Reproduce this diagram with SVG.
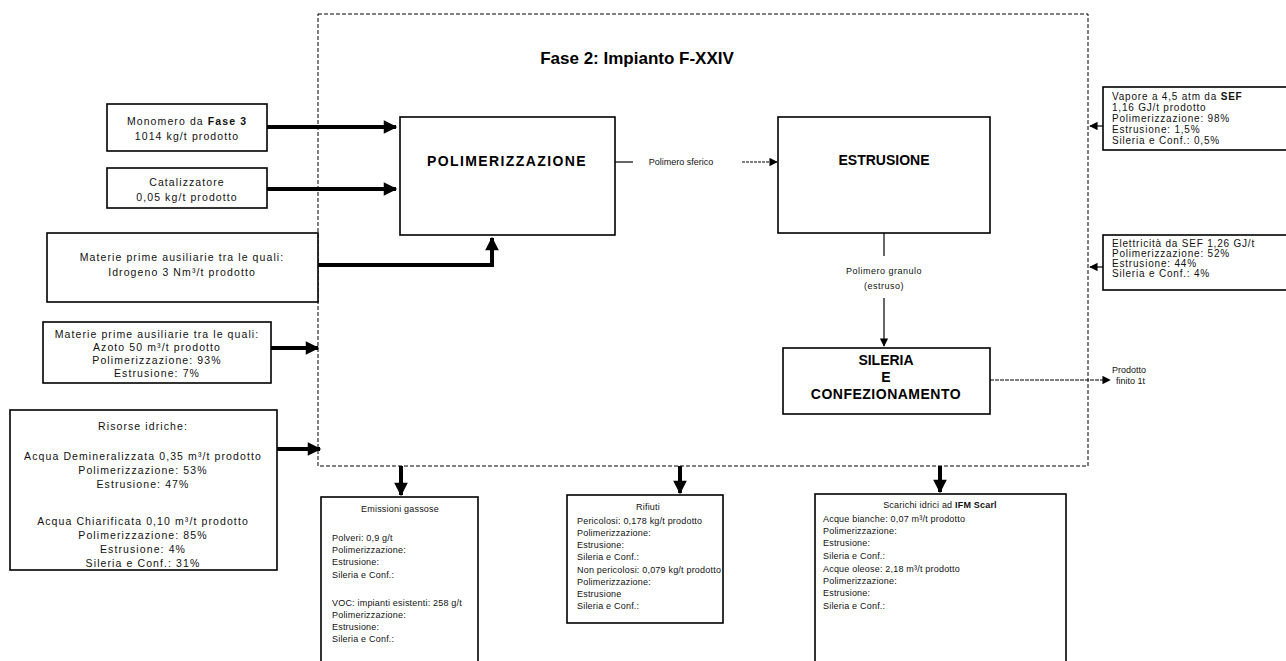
<svg xmlns="http://www.w3.org/2000/svg" width="1286" height="661" viewBox="0 0 1286 661">
  <style>
    .box { fill: #fff; stroke: #000; stroke-width: 1.6; }
    .t { font-family: "Liberation Sans", Arial, sans-serif; font-size: 9px; fill: #111; }
    .l { font-size: 10.5px; letter-spacing: 1.1px; }
    .r { font-size: 10px; letter-spacing: 0.8px; }
    .b { font-size: 9px; letter-spacing: 0.2px; }
    .c { text-anchor: middle; }
    .big { font-family: "Liberation Sans", Arial, sans-serif; font-size: 14px; font-weight: bold; text-anchor: middle; fill: #000; }
    .title { font-family: "Liberation Sans", Arial, sans-serif; font-size: 17px; font-weight: bold; text-anchor: middle; fill: #000; }
    .thick { stroke: #000; stroke-width: 4; fill: none; }
    .thin { stroke: #000; stroke-width: 1.2; fill: none; }
    .dash { stroke: #000; stroke-width: 1; fill: none; stroke-dasharray: 4 2; }
  </style>
  <defs>
    <marker id="headBig" viewBox="0 0 10 10" refX="9" refY="5" markerWidth="3.8" markerHeight="3.4" orient="auto" markerUnits="strokeWidth">
      <path d="M0,0 L10,5 L0,10 z" fill="#000"/>
    </marker>
    <marker id="headSmall" viewBox="0 0 10 10" refX="9" refY="5" markerWidth="8" markerHeight="7" orient="auto" markerUnits="strokeWidth">
      <path d="M0,0 L10,5 L0,10 z" fill="#000"/>
    </marker>
  </defs>
  <rect width="1286" height="661" fill="#fff"/>

  <!-- plant boundary -->
  <g id="plant">
    <rect x="318" y="14" width="770" height="452" class="dash"/>
    <text x="637" y="64" class="title">Fase 2: Impianto F-XXIV</text>
  </g>

  <g id="connectors">
    <line x1="267" y1="127" x2="396" y2="127" class="thick" marker-end="url(#headBig)"/>
    <line x1="267" y1="189" x2="396" y2="189" class="thick" marker-end="url(#headBig)"/>
    <polyline points="318,265 492,265 492,238" class="thick" marker-end="url(#headBig)"/>
    <line x1="271" y1="348" x2="318" y2="348" class="thick" marker-end="url(#headBig)"/>
    <line x1="277" y1="449" x2="320" y2="449" class="thick" marker-end="url(#headBig)"/>
    <line x1="1103" y1="126" x2="1090" y2="126" class="thin" marker-end="url(#headSmall)"/>
    <line x1="1103" y1="267" x2="1090" y2="267" class="thin" marker-end="url(#headSmall)"/>
    <line x1="615" y1="162" x2="633" y2="162" class="thin"/>
    <line x1="742" y1="162" x2="777" y2="162" class="thin" stroke-dasharray="3 1" marker-end="url(#headSmall)"/>
    <line x1="884" y1="233" x2="884" y2="256" class="thin"/>
    <line x1="884" y1="298" x2="884" y2="346" class="thin" marker-end="url(#headSmall)"/>
    <line x1="990" y1="380" x2="1110" y2="380" class="thin" stroke-dasharray="4 1" marker-end="url(#headSmall)"/>
    <line x1="401" y1="466" x2="401" y2="495" class="thick" marker-end="url(#headBig)"/>
    <line x1="680" y1="466" x2="680" y2="493" class="thick" marker-end="url(#headBig)"/>
    <line x1="940" y1="466" x2="940" y2="492" class="thick" marker-end="url(#headBig)"/>
    <text x="681" y="165" class="t c">Polimero sferico</text>
    <text x="884" y="274" class="t c" letter-spacing="0.5">Polimero granulo</text>
    <text x="884" y="289" class="t c" letter-spacing="0.5">(estruso)</text>
    <text x="1112" y="373" class="t">Prodotto</text>
    <text x="1116" y="384" class="t">finito 1t</text>
  </g>

  <g id="polimerizzazione">
    <rect x="400" y="117" width="215" height="118" class="box"/>
    <text x="507" y="166" class="big" letter-spacing="1.4">POLIMERIZZAZIONE</text>
  </g>
  <g id="estrusione">
    <rect x="778" y="117" width="212" height="116" class="box"/>
    <text x="884" y="165" class="big">ESTRUSIONE</text>
  </g>
  <g id="sileria">
    <rect x="783" y="348" width="207" height="66" class="box"/>
    <text x="886" y="365" class="big">SILERIA</text>
    <text x="886" y="382" class="big">E</text>
    <text x="886" y="399" class="big" letter-spacing="0.5">CONFEZIONAMENTO</text>
  </g>

  <g id="monomero">
    <rect x="107" y="104" width="160" height="47" class="box"/>
    <text x="187" y="125" class="t l c">Monomero da <tspan font-weight="bold">Fase 3</tspan></text>
    <text x="187" y="140" class="t l c">1014 kg/t prodotto</text>
  </g>
  <g id="catalizzatore">
    <rect x="107" y="168" width="160" height="40" class="box"/>
    <text x="187" y="186" class="t l c">Catalizzatore</text>
    <text x="187" y="201" class="t l c">0,05 kg/t prodotto</text>
  </g>
  <g id="idrogeno">
    <rect x="47" y="233" width="271" height="69" class="box"/>
    <text x="182" y="261" class="t l c">Materie prime ausiliarie tra le quali:</text>
    <text x="182" y="276" class="t l c">Idrogeno 3 Nm³/t prodotto</text>
  </g>
  <g id="azoto">
    <rect x="43" y="322" width="228" height="61" class="box"/>
    <text x="157" y="338" class="t l c">Materie prime ausiliarie tra le quali:</text>
    <text x="157" y="351" class="t l c">Azoto 50 m³/t prodotto</text>
    <text x="157" y="364" class="t l c">Polimerizzazione: 93%</text>
    <text x="157" y="377" class="t l c">Estrusione: 7%</text>
  </g>
  <g id="risorse-idriche">
    <rect x="10" y="410" width="267" height="160" class="box"/>
    <text x="143" y="430" class="t l c">Risorse idriche:</text>
    <text x="143" y="460" class="t l c">Acqua Demineralizzata 0,35 m³/t prodotto</text>
    <text x="143" y="474" class="t l c">Polimerizzazione: 53%</text>
    <text x="143" y="488" class="t l c">Estrusione: 47%</text>
    <text x="143" y="525" class="t l c">Acqua Chiarificata 0,10 m³/t prodotto</text>
    <text x="143" y="539" class="t l c">Polimerizzazione: 85%</text>
    <text x="143" y="553" class="t l c">Estrusione: 4%</text>
    <text x="143" y="567" class="t l c">Sileria e Conf.: 31%</text>
  </g>

  <g id="vapore">
    <rect x="1103" y="87" width="190" height="63" class="box"/>
    <text x="1112" y="100" class="t r" letter-spacing="1.6">Vapore a 4,5 atm da <tspan font-weight="bold">SEF</tspan></text>
    <text x="1112" y="111" class="t r">1,16 GJ/t prodotto</text>
    <text x="1112" y="122" class="t r">Polimerizzazione: 98%</text>
    <text x="1112" y="133" class="t r">Estrusione: 1,5%</text>
    <text x="1112" y="144" class="t r">Sileria e Conf.: 0,5%</text>
  </g>
  <g id="elettricita">
    <rect x="1103" y="235" width="190" height="55" class="box"/>
    <text x="1112" y="247" class="t r" letter-spacing="1.2">Elettricità da SEF 1,26 GJ/t</text>
    <text x="1112" y="257" class="t r">Polimerizzazione: 52%</text>
    <text x="1112" y="267" class="t r">Estrusione: 44%</text>
    <text x="1112" y="277" class="t r">Sileria e Conf.: 4%</text>
  </g>

  <g id="emissioni">
    <rect x="321" y="497" width="157" height="170" class="box"/>
    <text x="400" y="512" class="t b c">Emissioni gassose</text>
    <text x="332" y="541" class="t b">Polveri: 0,9 g/t</text>
    <text x="332" y="553" class="t b">Polimerizzazione:</text>
    <text x="332" y="565" class="t b">Estrusione:</text>
    <text x="332" y="578" class="t b">Sileria e Conf.:</text>
    <text x="332" y="606" class="t b">VOC: impianti esistenti: 258 g/t</text>
    <text x="332" y="618" class="t b">Polimerizzazione:</text>
    <text x="332" y="630" class="t b">Estrusione:</text>
    <text x="332" y="642" class="t b">Sileria e Conf.:</text>
  </g>
  <g id="rifiuti">
    <rect x="567" y="495" width="156" height="128" class="box"/>
    <text x="648" y="510" class="t b c">Rifiuti</text>
    <text x="577" y="524" class="t b">Pericolosi: 0,178 kg/t prodotto</text>
    <text x="577" y="536" class="t b">Polimerizzazione:</text>
    <text x="577" y="548" class="t b">Estrusione:</text>
    <text x="577" y="560" class="t b">Sileria e Conf.:</text>
    <text x="577" y="573" class="t b">Non pericolosi: 0,079 kg/t prodotto</text>
    <text x="577" y="585" class="t b">Polimerizzazione:</text>
    <text x="577" y="597" class="t b">Estrusione</text>
    <text x="577" y="609" class="t b">Sileria e Conf.:</text>
  </g>
  <g id="scarichi">
    <rect x="815" y="494" width="251" height="173" class="box"/>
    <text x="940" y="508" class="t b c">Scarichi idrici ad <tspan font-weight="bold">IFM Scarl</tspan></text>
    <text x="823" y="522" class="t b">Acque bianche: 0,07 m³/t prodotto</text>
    <text x="823" y="534" class="t b">Polimerizzazione:</text>
    <text x="823" y="546" class="t b">Estrusione:</text>
    <text x="823" y="559" class="t b">Sileria e Conf.:</text>
    <text x="823" y="572" class="t b">Acque oleose: 2,18 m³/t prodotto</text>
    <text x="823" y="584" class="t b">Polimerizzazione:</text>
    <text x="823" y="596" class="t b">Estrusione:</text>
    <text x="823" y="609" class="t b">Sileria e Conf.:</text>
  </g>
</svg>
